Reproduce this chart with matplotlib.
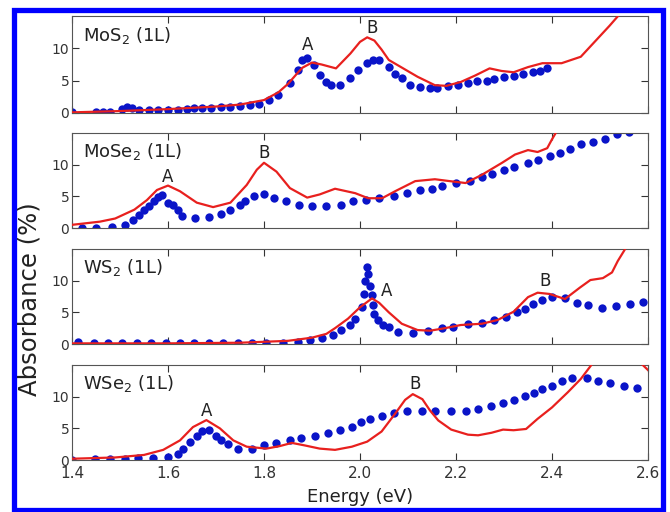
import matplotlib.pyplot as plt
from matplotlib.patches import Rectangle

# MoS2 (1L)
mos2_exp_e = [1.40, 1.45, 1.465, 1.48, 1.505, 1.515, 1.525, 1.54, 1.56, 1.58, 1.60, 1.62, 1.64, 1.655, 1.67,
              1.69, 1.71, 1.73, 1.75, 1.77, 1.79, 1.81, 1.83, 1.854, 1.87, 1.88, 1.89, 1.905, 1.917, 1.93, 1.94,
              1.958, 1.98, 1.996, 2.015, 2.027, 2.04, 2.06, 2.073, 2.087, 2.104, 2.125, 2.146, 2.16, 2.183,
              2.204, 2.225, 2.244, 2.265, 2.28, 2.30, 2.32, 2.34, 2.36, 2.375, 2.39]
mos2_exp_a = [0.1, 0.2, 0.2, 0.2, 0.6, 1.0, 0.7, 0.4, 0.4, 0.4, 0.4, 0.5, 0.6, 0.7, 0.7,
              0.8, 0.9, 1.0, 1.1, 1.2, 1.4, 2.0, 2.8, 4.6, 6.6, 8.2, 8.5, 7.4, 5.8, 4.8, 4.3,
              4.3, 5.4, 6.6, 7.7, 8.2, 8.2, 7.1, 6.1, 5.4, 4.3, 4.0, 3.8, 3.9, 4.1,
              4.3, 4.6, 4.9, 5.0, 5.2, 5.5, 5.7, 6.0, 6.3, 6.5, 6.9]
mos2_th_e = [1.40, 1.50, 1.60, 1.70, 1.75, 1.80, 1.83, 1.85, 1.87, 1.88, 1.90, 1.92, 1.95, 1.98, 2.00,
             2.015, 2.03, 2.045, 2.06, 2.09, 2.12, 2.156, 2.18, 2.21, 2.24, 2.27, 2.295, 2.32, 2.35,
             2.38, 2.42, 2.46, 2.495, 2.52, 2.54, 2.56]
mos2_th_a = [0.1, 0.3, 0.6, 1.0, 1.3, 2.0, 3.2, 4.5, 6.2, 7.0, 7.8, 7.5, 6.9, 9.2, 11.0,
             11.7, 11.2, 9.8, 8.2, 6.9, 5.6, 4.3, 4.2, 4.8, 5.8, 6.9, 6.5, 6.3, 7.1,
             7.7, 7.7, 8.7, 11.5, 13.5, 15.2, 17.0]

# MoSe2 (1L)
mose2_exp_e = [1.42, 1.45, 1.483, 1.51, 1.527, 1.54, 1.55, 1.56, 1.57, 1.58, 1.587, 1.60, 1.61, 1.62, 1.63,
               1.656, 1.685, 1.71, 1.73, 1.75, 1.76, 1.78, 1.80, 1.82, 1.846, 1.873, 1.90, 1.93, 1.96,
               1.985, 2.013, 2.04, 2.07, 2.098, 2.125, 2.15, 2.17, 2.20, 2.23, 2.255, 2.275, 2.30, 2.32,
               2.35, 2.37, 2.395, 2.417, 2.437, 2.46, 2.485, 2.51, 2.535, 2.56]
mose2_exp_a = [0.0, 0.0, 0.2, 0.5, 1.3, 2.1, 2.9, 3.5, 4.2, 4.9, 5.2, 3.9, 3.6, 2.9, 1.9,
               1.6, 1.8, 2.2, 2.9, 3.7, 4.3, 5.1, 5.3, 4.8, 4.2, 3.7, 3.4, 3.5, 3.7,
               4.2, 4.4, 4.7, 5.1, 5.5, 6.0, 6.2, 6.7, 7.1, 7.5, 8.0, 8.6, 9.2, 9.7,
               10.2, 10.7, 11.3, 11.8, 12.5, 13.2, 13.6, 14.1, 14.8, 15.1]
mose2_th_e = [1.40, 1.458, 1.49, 1.53, 1.556, 1.577, 1.60, 1.625, 1.66, 1.694, 1.73, 1.764, 1.785, 1.80,
              1.826, 1.854, 1.89, 1.916, 1.948, 1.99, 2.017, 2.046, 2.073, 2.115, 2.156, 2.187, 2.22,
              2.254, 2.296, 2.323, 2.35, 2.37, 2.39, 2.40, 2.41, 2.42]
mose2_th_a = [0.5, 1.0, 1.5, 2.9, 4.4, 6.0, 6.7, 5.8, 4.0, 3.3, 4.0, 6.8, 9.2, 10.3,
              8.9, 6.3, 4.8, 5.3, 6.2, 5.5, 4.7, 4.7, 5.8, 7.4, 7.7, 7.4, 7.1,
              8.4, 10.3, 11.6, 12.3, 12.0, 12.6, 14.0, 15.3, 17.0]

# WS2 (1L)
ws2_exp_e = [1.413, 1.445, 1.475, 1.505, 1.535, 1.565, 1.595, 1.625, 1.655, 1.685, 1.715, 1.745, 1.775,
             1.805, 1.84, 1.87, 1.896, 1.92, 1.944, 1.96, 1.98, 1.99, 2.005, 2.008, 2.011, 2.014, 2.017,
             2.02, 2.024, 2.027, 2.03, 2.037, 2.048, 2.06, 2.08, 2.11, 2.142, 2.17, 2.194, 2.225, 2.254,
             2.28, 2.305, 2.327, 2.344, 2.36, 2.38, 2.40, 2.427, 2.452, 2.475, 2.504, 2.533, 2.562, 2.59]
ws2_exp_a = [0.3, 0.2, 0.1, 0.1, 0.1, 0.1, 0.1, 0.1, 0.1, 0.1, 0.1, 0.1, 0.1,
             0.1, 0.2, 0.3, 0.6, 0.9, 1.4, 2.2, 3.0, 4.0, 5.8, 7.9, 10.0, 12.1, 11.0,
             9.2, 7.7, 6.1, 4.8, 3.8, 3.0, 2.7, 1.9, 1.8, 2.1, 2.5, 2.7, 3.1, 3.3,
             3.8, 4.3, 5.1, 5.6, 6.3, 6.9, 7.5, 7.3, 6.5, 6.1, 5.7, 6.0, 6.3, 6.6]
ws2_th_e = [1.40, 1.60, 1.75, 1.85, 1.90, 1.93, 1.948, 1.975, 2.0, 2.025, 2.04, 2.06, 2.087, 2.12, 2.146,
            2.177, 2.21, 2.254, 2.287, 2.32, 2.35, 2.37, 2.395, 2.427, 2.458, 2.48, 2.506, 2.525, 2.537,
            2.55, 2.56]
ws2_th_a = [0.1, 0.1, 0.2, 0.5, 1.0, 1.6, 2.5, 4.0, 5.8, 7.2, 6.5, 5.0, 3.2, 2.2, 2.1,
            2.5, 3.0, 3.2, 3.8, 5.1, 7.4, 8.1, 7.9, 7.1, 8.9, 10.1, 10.4, 11.3, 13.1,
            14.7, 16.0]

# WSe2 (1L)
wse2_exp_e = [1.40, 1.447, 1.48, 1.51, 1.537, 1.568, 1.60, 1.62, 1.632, 1.646, 1.66, 1.67, 1.686, 1.70,
              1.71, 1.725, 1.745, 1.774, 1.80, 1.826, 1.854, 1.878, 1.906, 1.934, 1.958, 1.983, 2.003,
              2.02, 2.045, 2.07, 2.098, 2.13, 2.156, 2.19, 2.22, 2.246, 2.273, 2.298, 2.32, 2.344, 2.362,
              2.38, 2.40, 2.42, 2.442, 2.472, 2.496, 2.52, 2.55, 2.577]
wse2_exp_a = [0.0, 0.1, 0.1, 0.2, 0.3, 0.3, 0.4, 1.0, 1.8, 2.9, 3.75, 4.6, 4.7, 3.75,
              3.2, 2.5, 1.8, 1.8, 2.4, 2.7, 3.1, 3.5, 3.75, 4.2, 4.7, 5.2, 6.0,
              6.5, 6.9, 7.4, 7.8, 7.8, 7.7, 7.7, 7.7, 8.1, 8.5, 9.0, 9.5, 10.05, 10.6,
              11.2, 11.7, 12.4, 12.9, 12.9, 12.5, 12.1, 11.7, 11.4]
wse2_th_e = [1.40, 1.49, 1.55, 1.59, 1.625, 1.652, 1.68, 1.708, 1.736, 1.764, 1.805, 1.833, 1.858, 1.885,
             1.916, 1.948, 1.983, 2.015, 2.045, 2.073, 2.094, 2.11, 2.13, 2.146, 2.163, 2.19, 2.225,
             2.246, 2.274, 2.298, 2.32, 2.346, 2.37, 2.40, 2.433, 2.46, 2.48, 2.50, 2.57, 2.585, 2.60]
wse2_th_a = [0.2, 0.4, 0.8, 1.6, 3.1, 5.2, 6.3, 5.0, 3.1, 2.1, 1.8, 2.2, 2.7, 2.3,
             1.8, 1.6, 2.1, 2.9, 4.5, 7.3, 9.5, 10.4, 9.6, 7.8, 6.25, 4.8, 4.0,
             3.9, 4.3, 4.8, 4.7, 4.9, 6.5, 8.3, 10.7, 12.8, 14.8, 17.0, 17.0, 15.3, 14.2]

names = ['MoS$_2$ (1L)', 'MoSe$_2$ (1L)', 'WS$_2$ (1L)', 'WSe$_2$ (1L)']
peak_labels = [[('A', 1.89, 10.5), ('B', 2.025, 13.2)],
               [('A', 1.60, 8.1), ('B', 1.80, 11.9)],
               [('A', 2.056, 8.4), ('B', 2.385, 10.0)],
               [('A', 1.68, 7.8), ('B', 2.115, 12.0)]]
exp_data = [(mos2_exp_e, mos2_exp_a), (mose2_exp_e, mose2_exp_a),
            (ws2_exp_e, ws2_exp_a), (wse2_exp_e, wse2_exp_a)]
th_data = [(mos2_th_e, mos2_th_a), (mose2_th_e, mose2_th_a),
           (ws2_th_e, ws2_th_a), (wse2_th_e, wse2_th_a)]

fig = plt.figure(figsize=(6.7, 5.12), dpi=100)
W, H = 670.0, 512.0
panel_px = [(16, 113), (133, 228), (249, 344), (365, 460)]
left, right = 72, 648

for i, (top, bot) in enumerate(panel_px):
    ax = fig.add_axes([left / W, 1 - bot / H, (right - left) / W, (bot - top) / H])
    e, a = exp_data[i]
    ax.plot(e, a, 'o', color='#0a14c8', markersize=6, markeredgewidth=0, zorder=2)
    e, a = th_data[i]
    ax.plot(e, a, '-', color='#e8201e', linewidth=1.6, zorder=3)
    ax.set_xlim(1.4, 2.6)
    ax.set_ylim(0, 15)
    ax.set_yticks([0, 5, 10])
    ax.set_xticks([1.4, 1.6, 1.8, 2.0, 2.2, 2.4, 2.6])
    ax.tick_params(direction='in', top=True, right=True, length=5, colors='#333333')
    ax.tick_params(axis='y', labelsize=10, pad=2)
    ax.tick_params(axis='x', labelsize=11, pad=4)
    for s in ax.spines.values():
        s.set_color('#555555')
    if i < 3:
        ax.set_xticklabels([])
    ax.text(0.019, 0.80, names[i], transform=ax.transAxes, fontsize=13,
            color='#222222', va='center', ha='left')
    for lab, x, y in peak_labels[i]:
        ax.text(x, y, lab, fontsize=12, color='#222222', ha='center', va='center')

fig.text(360 / W, 1 - 497 / H, 'Energy (eV)', fontsize=13, color='#222222',
         ha='center', va='center')
fig.text(30 / W, 1 - 299 / H, 'Absorbance (%)', fontsize=17.5, color='#222222',
         ha='center', va='center', rotation=90)

fig.patches.append(Rectangle((14 / W, 1 - 510 / H), (662.5 - 14) / W, (510 - 10) / H,
                             transform=fig.transFigure, fill=False,
                             edgecolor='#0000ff', linewidth=3.8))

fig.savefig('out.png', dpi=100)
